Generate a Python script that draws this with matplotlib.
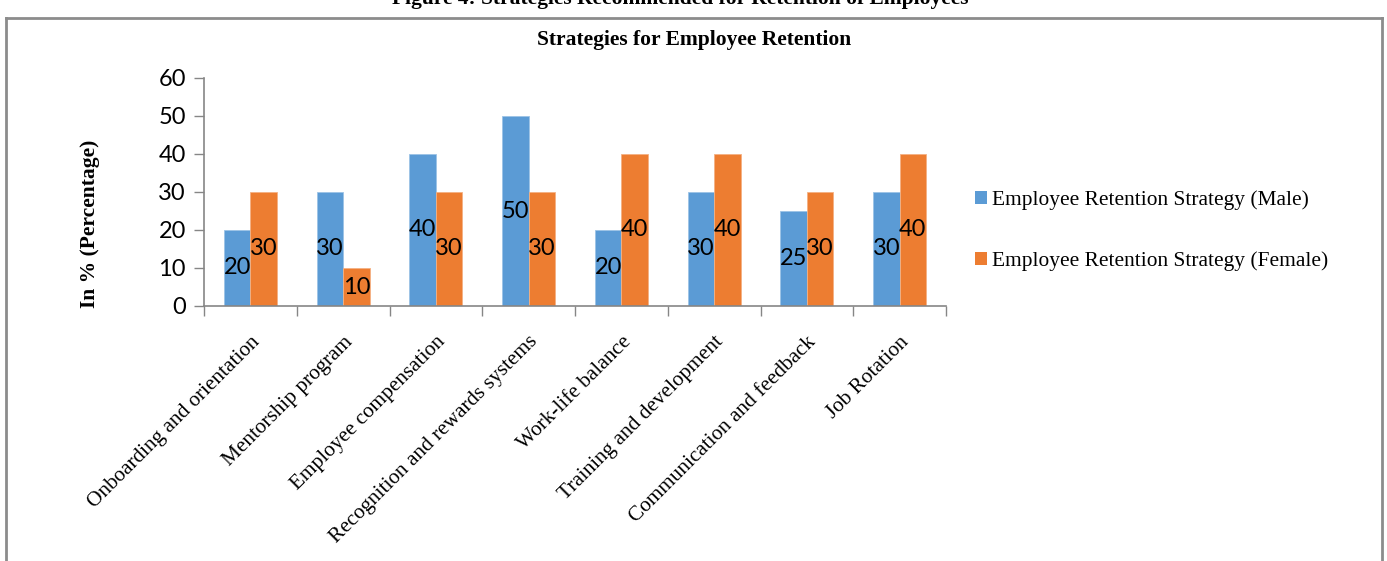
import matplotlib.pyplot as plt
import numpy as np
from matplotlib.lines import Line2D
from matplotlib.patches import Patch

# survey results in percent
strategies = ["Onboarding and orientation", "Mentorship program", "Employee compensation",
              "Recognition and rewards systems", "Work-life balance", "Training and development",
              "Communication and feedback", "Job Rotation"]
male = [20, 30, 40, 50, 20, 30, 25, 30]
female = [30, 10, 30, 30, 40, 40, 30, 40]
series_names = ["Employee Retention Strategy (Male)", "Employee Retention Strategy (Female)"]

blue = "#5B9BD5"
orange = "#ED7D31"
axis_gray = "#868686"
serif = "Liberation Serif"
sans = "Lato"

W, H = 1387, 561
fig = plt.figure(figsize=(W / 100, H / 100), dpi=100)
ax = fig.add_axes([204 / W, 1 - 306 / H, (946 - 204) / W, (306 - 78) / H])

x = np.arange(len(strategies))
bw = 0.286
b1 = ax.bar(x - bw / 2, male, bw, color=blue, edgecolor="#9CC3E6", linewidth=0.6)
b2 = ax.bar(x + bw / 2, female, bw, color=orange, edgecolor="#F4B183", linewidth=0.6)
for bars in (b1, b2):
    ax.bar_label(bars, label_type="center", fontsize=17, fontfamily=sans, color="black")

ax.set_xlim(-0.5, len(strategies) - 0.5)
ax.set_ylim(0, 60)
ax.set_yticks(range(0, 61, 10))
ax.tick_params(axis="y", labelsize=17, length=7, width=1, color=axis_gray, pad=6)
for lab in ax.get_yticklabels():
    lab.set_fontfamily(sans)

# category ticks sit between groups, labels at group centres
ax.set_xticks(np.arange(-0.5, len(strategies)), minor=False)
ax.set_xticklabels([])
ax.tick_params(axis="x", length=7, width=1, color=axis_gray)
ax.set_xticks(x, minor=True)
ax.set_xticklabels(strategies, minor=True, rotation=45, ha="right", va="top",
                   rotation_mode="anchor", fontsize=15.3, fontfamily=serif)
ax.tick_params(axis="x", which="minor", length=0, pad=19)

for side in ["top", "right"]:
    ax.spines[side].set_visible(False)
for side in ["left", "bottom"]:
    ax.spines[side].set_color(axis_gray)
    ax.spines[side].set_linewidth(1.2)

fig.text(694 / W, 1 - 40 / H, "Strategies for Employee Retention", ha="center", va="center",
         fontsize=15.5, fontweight="bold", fontfamily=serif)
fig.text(90 / W, 1 - 224 / H, "In % (Percentage)", ha="center", va="center", rotation=90,
         fontsize=15.5, fontweight="bold", fontfamily=serif)
fig.text(680 / W, 1 - 4 / H, "Figure 4: Strategies Recommended for Retention of Employees",
         ha="center", va="baseline", fontsize=15.5, fontweight="bold", fontfamily=serif)

handles = [Patch(facecolor=blue), Patch(facecolor=orange)]
fig.legend(handles, series_names, loc="upper left", bbox_to_anchor=(975 / W, 1 - 190 / H),
           frameon=False, prop={"family": serif, "size": 15.4}, handlelength=0.55,
           handleheight=0.55, handletextpad=0.25, labelspacing=1.95, borderpad=0, borderaxespad=0)

# frame around the chart area
for xs, ys in [((6, 1382), (18, 18)), ((6, 6), (18, H + 5)), ((1382, 1382), (18, H + 5))]:
    fig.add_artist(Line2D([v / W for v in xs], [1 - v / H for v in ys], color="#8C8C8C", lw=2))

fig.savefig("out.png", dpi=100)
